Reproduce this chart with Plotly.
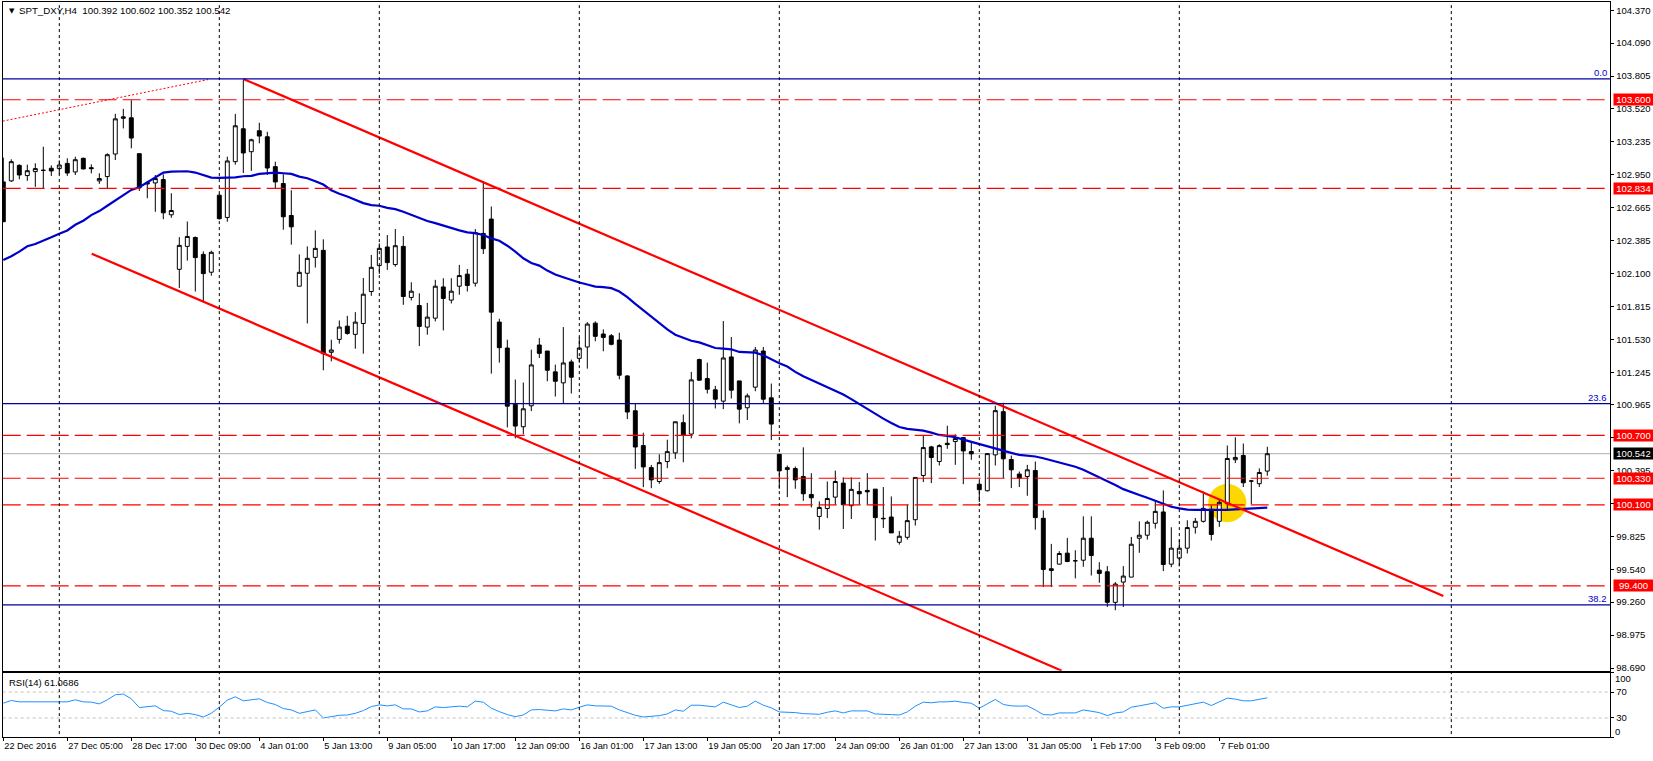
import plotly.graph_objects as go

# SPT_DXY H4 bars
opens = [102.89, 102.899, 103.033, 102.945, 102.979, 102.99, 103.008, 103.005, 103.05, 102.976,
         103.094, 103.013, 102.899, 102.936, 103.131, 103.452, 103.444, 103.134, 102.884, 102.881,
         102.91, 102.606, 102.135, 102.333, 102.41, 102.264, 102.11, 102.775, 102.583, 103.065,
         103.349, 103.151, 103.332, 103.28, 103.022, 102.876, 102.6, 101.989, 102.101, 102.238,
         102.299, 101.418, 101.53, 101.644, 101.573, 101.667, 101.943, 102.167, 102.328, 102.176,
         102.333, 101.892, 101.822, 101.636, 101.713, 101.983, 101.869, 101.989, 102.093, 102.015,
         102.445, 102.569, 101.679, 101.455, 100.97, 100.775, 100.956, 101.481, 101.429, 101.249,
         101.154, 101.335, 101.366, 101.464, 101.67, 101.576, 101.561, 101.524, 101.214, 100.913,
         100.612, 100.422, 100.302, 100.474, 100.549, 100.81, 100.712, 101.355, 101.191, 101.094,
         100.996, 101.378, 101.171, 100.939, 101.117, 101.429, 101.025, 100.537, 100.405, 100.414,
         100.345, 100.19, 100.0, 100.069, 100.167, 100.288, 100.093, 100.216, 100.225, 100.236,
         99.984, 99.995, 99.777, 99.82, 99.972, 100.354, 100.601, 100.475, 100.632, 100.647,
         100.681, 100.561, 100.279, 100.222, 100.532, 100.905, 100.492, 100.366, 100.345, 100.397,
         99.984, 99.548, 99.588, 99.683, 99.617, 99.622, 99.812, 99.536, 99.522, 99.258,
         99.433, 99.476, 99.812, 99.838, 99.941, 100.039, 99.588, 99.64, 99.726, 99.907,
         99.958, 100.061, 99.958, 100.11, 100.49, 100.527, 100.306, 100.283, 100.392]
highs = [103.10, 103.085, 103.042, 103.039, 103.051, 103.194, 103.033, 103.076, 103.094, 103.108,
         103.1, 103.042, 102.965, 103.137, 103.478, 103.521, 103.596, 103.134, 102.899, 102.95,
         102.956, 102.792, 102.413, 102.548, 102.419, 102.29, 102.296, 102.79, 103.108, 103.478,
         103.774, 103.263, 103.401, 103.323, 103.065, 102.956, 102.818, 102.264, 102.333, 102.471,
         102.394, 101.527, 101.693, 101.733, 101.765, 102.06, 102.259, 102.359, 102.431, 102.483,
         102.422, 102.023, 101.928, 101.845, 102.044, 102.058, 102.058, 102.173, 102.138, 102.483,
         102.896, 102.678, 101.708, 101.527, 101.183, 101.157, 101.441, 101.541, 101.429, 101.312,
         101.636, 101.355, 101.55, 101.679, 101.685, 101.616, 101.576, 101.587, 101.22, 100.973,
         100.724, 100.445, 100.537, 100.663, 100.818, 100.881, 101.249, 101.363, 101.329, 101.128,
         101.688, 101.55, 101.171, 101.062, 101.464, 101.464, 101.148, 100.537, 100.44, 100.431,
         100.597, 100.374, 100.13, 100.302, 100.396, 100.337, 100.337, 100.297, 100.374, 100.236,
         100.254, 100.173, 99.875, 100.102, 100.337, 100.696, 100.61, 100.624, 100.784, 100.71,
         100.684, 100.652, 100.30, 100.546, 100.957, 100.982, 100.526, 100.388, 100.446, 100.475,
         100.053, 99.763, 99.7, 99.815, 99.708, 100.001, 100.001, 99.605, 99.571, 99.433,
         99.571, 99.823, 99.958, 99.964, 100.13, 100.225, 99.907, 99.8, 99.967, 99.987,
         100.216, 100.096, 100.15, 100.613, 100.684, 100.63, 100.312, 100.415, 100.602]
lows = [102.546, 102.89, 102.913, 102.899, 102.847, 102.833, 102.942, 102.955, 102.942, 102.95,
        102.999, 102.964, 102.873, 102.833, 103.079, 103.352, 103.18, 102.812, 102.749, 102.632,
        102.568, 102.58, 101.974, 102.21, 101.943, 101.851, 102.08, 102.565, 102.546, 103.039,
        102.967, 102.985, 103.223, 102.95, 102.833, 102.477, 102.348, 101.989, 101.667, 102.15,
        101.263, 101.34, 101.493, 101.57, 101.449, 101.406, 101.906, 102.095, 102.13, 102.158,
        101.828, 101.866, 101.472, 101.57, 101.685, 101.607, 101.84, 101.915, 101.943, 101.986,
        102.267, 101.234, 101.329, 100.769, 100.675, 100.709, 100.91, 101.369, 101.168, 101.036,
        100.973, 101.062, 101.329, 101.277, 101.513, 101.427, 101.478, 101.185, 100.841, 100.411,
        100.253, 100.244, 100.282, 100.417, 100.497, 100.468, 100.675, 101.177, 101.062, 100.933,
        100.927, 101.019, 100.804, 100.833, 101.082, 100.976, 100.66, 100.239, 100.167, 100.239,
        100.135, 100.078, 99.886, 99.986, 100.1, 99.892, 99.978, 100.102, 100.102, 99.792,
        99.901, 99.858, 99.757, 99.8, 99.921, 100.297, 100.288, 100.44, 100.584, 100.446,
        100.279, 100.489, 100.125, 100.216, 100.44, 100.331, 100.245, 100.254, 100.179, 99.886,
        99.39, 99.39, 99.585, 99.605, 99.465, 99.565, 99.49, 99.427, 99.218, 99.19,
        99.218, 99.476, 99.686, 99.8, 99.895, 99.528, 99.562, 99.57, 99.68, 99.852,
        99.947, 99.792, 99.91, 100.059, 100.461, 100.254, 100.108, 100.254, 100.352]
closes = [102.546, 103.065, 102.95, 102.987, 103.005, 102.99, 102.985, 103.036, 102.967, 103.082,
          103.002, 103.005, 102.919, 103.125, 103.435, 103.441, 103.269, 102.841, 102.873, 102.919,
          102.623, 102.643, 102.342, 102.419, 102.236, 102.098, 102.282, 102.572, 103.071, 103.375,
          103.14, 103.254, 103.286, 103.01, 102.89, 102.589, 102.502, 102.109, 102.23, 102.316,
          101.406, 101.438, 101.636, 101.581, 101.679, 101.92, 102.152, 102.316, 102.193, 102.339,
          101.9, 101.946, 101.642, 101.722, 101.989, 101.883, 101.946, 102.081, 101.995, 102.451,
          102.313, 101.765, 101.458, 100.953, 100.781, 100.93, 101.309, 101.409, 101.263, 101.168,
          101.326, 101.203, 101.455, 101.662, 101.556, 101.547, 101.487, 101.22, 100.902, 100.6,
          100.428, 100.316, 100.465, 100.56, 100.818, 100.701, 101.18, 101.177, 101.099, 101.013,
          101.369, 101.091, 100.927, 101.042, 101.438, 101.013, 100.798, 100.394, 100.422, 100.316,
          100.196, 100.161, 100.078, 100.155, 100.302, 100.102, 100.234, 100.196, 100.213, 99.99,
          99.981, 99.858, 99.829, 99.964, 100.337, 100.595, 100.509, 100.612, 100.621, 100.673,
          100.566, 100.541, 100.231, 100.543, 100.914, 100.498, 100.403, 100.331, 100.403, 99.99,
          99.542, 99.534, 99.68, 99.611, 99.617, 99.812, 99.663, 99.508, 99.258, 99.416,
          99.485, 99.76, 99.838, 99.95, 100.044, 99.585, 99.726, 99.726, 99.904, 99.958,
          100.07, 99.844, 100.122, 100.501, 100.51, 100.291, 100.306, 100.38, 100.542]
ma_values = [102.216, 102.248, 102.288, 102.334, 102.354, 102.38, 102.411, 102.443, 102.471, 102.52,
             102.555, 102.603, 102.638, 102.684, 102.732, 102.778, 102.821, 102.844, 102.887, 102.925,
             102.971, 102.979, 102.982, 102.982, 102.971, 102.948, 102.927, 102.925, 102.925, 102.93,
             102.939, 102.942, 102.959, 102.968, 102.971, 102.965, 102.959, 102.936, 102.922, 102.896,
             102.867, 102.818, 102.787, 102.764, 102.738, 102.707, 102.689, 102.684, 102.666, 102.655,
             102.632, 102.606, 102.58, 102.552, 102.534, 102.511, 102.494, 102.471, 102.454, 102.448,
             102.431, 102.402, 102.382, 102.339, 102.288, 102.23, 102.19, 102.167, 102.124, 102.09,
             102.067, 102.041, 102.021, 102.004, 101.986, 101.981, 101.972, 101.943, 101.895, 101.837,
             101.78, 101.728, 101.665, 101.616, 101.57, 101.541, 101.518, 101.504, 101.481, 101.455,
             101.45, 101.444, 101.421, 101.415, 101.415, 101.392, 101.355, 101.323, 101.295, 101.249,
             101.211, 101.18, 101.143, 101.117, 101.085, 101.054, 101.014, 100.971, 100.934, 100.888,
             100.845, 100.807, 100.773, 100.756, 100.747, 100.741, 100.724, 100.704, 100.696, 100.684,
             100.664, 100.644, 100.624, 100.607, 100.589, 100.566, 100.549, 100.532, 100.526, 100.518,
             100.503, 100.486, 100.466, 100.452, 100.429, 100.403, 100.371, 100.34, 100.305, 100.271,
             100.236, 100.208, 100.185, 100.162, 100.136, 100.107, 100.084, 100.07, 100.059, 100.056,
             100.056, 100.05, 100.05, 100.056, 100.062, 100.065, 100.068, 100.068, 100.076]
rsi_values = [52.8, 57.0, 54.9, 54.9, 56.0, 54.9, 54.9, 56.0, 54.9, 58.0,
              54.9, 54.4, 51.8, 58.0, 65.8, 66.9, 59.6, 46.1, 47.1, 48.7,
              41.4, 40.4, 35.2, 37.2, 35.2, 31.5, 37.2, 46.6, 57.5, 62.7,
              56.5, 58.0, 59.6, 53.9, 50.8, 44.5, 42.4, 37.2, 39.3, 42.4,
              30.0, 32.6, 34.1, 34.6, 37.2, 41.4, 47.6, 50.2, 48.7, 50.2,
              44.0, 44.0, 39.3, 40.9, 47.1, 46.1, 47.6, 48.2, 47.1, 56.0,
              54.4, 45.0, 39.8, 35.2, 32.0, 34.6, 42.4, 43.0, 41.9, 40.9,
              44.0, 42.4, 46.6, 50.2, 48.7, 48.7, 48.2, 42.4, 37.8, 34.1,
              31.5, 32.0, 33.6, 36.2, 42.4, 40.4, 49.7, 49.7, 48.2, 47.1,
              54.4, 49.7, 46.1, 48.2, 56.0, 49.7, 45.6, 39.3, 39.3, 38.3,
              36.7, 36.2, 35.7, 38.8, 40.9, 37.8, 40.9, 40.9, 40.9, 36.2,
              36.2, 35.2, 34.6, 39.3, 48.2, 54.4, 53.4, 54.9, 54.9, 56.0,
              53.9, 52.8, 45.0, 52.3, 58.6, 50.8, 48.7, 48.2, 48.7, 42.4,
              35.2, 34.6, 37.8, 37.8, 37.8, 42.4, 39.8, 38.3, 33.6, 37.8,
              39.3, 46.6, 48.7, 50.8, 53.4, 45.0, 47.1, 47.1, 49.2, 51.3,
              54.4, 49.2, 55.4, 60.6, 59.1, 56.5, 56.5, 59.1, 61.07]
bars = list(range(len(closes)))

time_ticks = list(range(0, 160, 8))
time_labels = ["22 Dec 2016", "27 Dec 05:00", "28 Dec 17:00", "30 Dec 09:00", "4 Jan 01:00",
               "5 Jan 13:00", "9 Jan 05:00", "10 Jan 17:00", "12 Jan 09:00", "16 Jan 01:00",
               "17 Jan 13:00", "19 Jan 05:00", "20 Jan 17:00", "24 Jan 09:00", "26 Jan 01:00",
               "27 Jan 13:00", "31 Jan 05:00", "1 Feb 17:00", "3 Feb 09:00", "7 Feb 01:00"]
price_ticks = [104.37, 104.09, 103.805, 103.52, 103.235, 102.95, 102.665, 102.385, 102.1, 101.815,
               101.53, 101.245, 100.965, 100.68, 100.395, 100.11, 99.825, 99.54, 99.26, 98.975, 98.69]
separators = [7, 27, 47, 72, 97, 122, 147, 181]
red_levels = [103.6, 102.834, 100.7, 100.33, 100.1, 99.4]
fib_levels = [103.78, 100.974, 99.236]
fib_names = ["0.0", "23.6", "38.2"]
last_price = 100.542

channel_top_x, channel_top_y = [30, 180], [103.78, 99.313]
channel_low_x, channel_low_y = [11.05, 132.3], [102.27, 98.668]
fib_trend_x, fib_trend_y = [-0.07, 25.6], [103.415, 103.774]

W, H = 1653, 761
FONT = "Liberation Sans"
X_RANGE = [-0.075, 200.875]
Y_RANGE = [98.668, 104.44]

fig = go.Figure()

fig.add_trace(go.Candlestick(x=bars, open=opens, high=highs, low=lows, close=closes,
                             xaxis="x2", yaxis="y", whiskerwidth=0,
                             increasing=dict(line=dict(color="black", width=1), fillcolor="white"),
                             decreasing=dict(line=dict(color="black", width=1), fillcolor="black")))
fig.add_trace(go.Scatter(x=bars, y=ma_values, mode="lines", xaxis="x2", yaxis="y",
                         line=dict(color="#0000CD", width=2.2)))
for xs, ys in [(channel_top_x, channel_top_y), (channel_low_x, channel_low_y)]:
    fig.add_trace(go.Scatter(x=xs, y=ys, mode="lines", xaxis="x2", yaxis="y",
                             line=dict(color="#FF0000", width=2.2)))
fig.add_trace(go.Scatter(x=fib_trend_x, y=fib_trend_y, mode="lines", xaxis="x2", yaxis="y",
                         line=dict(color="#FF0000", width=1, dash="2px,2px")))
fig.add_trace(go.Scatter(x=bars, y=rsi_values, mode="lines", xaxis="x", yaxis="y2",
                         line=dict(color="#1E90FF", width=1)))

# current price line and the yellow marker sit behind the candles
fig.add_shape(type="line", xref="x2", yref="y", x0=X_RANGE[0], x1=X_RANGE[1], y0=last_price, y1=last_price,
              line=dict(color="#BEBEBE", width=1.3), layer="below")
fig.add_shape(type="circle", xref="x2", yref="y", x0=153 - 2.4, x1=153 + 2.4, y0=100.116 - 0.165, y1=100.116 + 0.165,
              fillcolor="#FFD700", line=dict(width=0), layer="below")

for level in red_levels:
    fig.add_shape(type="line", xref="x2", yref="y", x0=X_RANGE[0], x1=X_RANGE[1], y0=level, y1=level,
                  line=dict(color="#FF0000", width=1.2, dash="18px,6px"))
    fig.add_annotation(xref="paper", yref="y", x=1613 / W, y=level, text=f"{level:.3f}", showarrow=False,
                       xanchor="left", yanchor="middle", width=39, height=11, borderpad=0, bgcolor="#FF0000",
                       font=dict(color="white", family=FONT, size=9.5))
for level, name in zip(fib_levels, fib_names):
    fig.add_shape(type="line", xref="x2", yref="y", x0=X_RANGE[0], x1=X_RANGE[1], y0=level, y1=level,
                  line=dict(color="#0000A0", width=1.3))
    fig.add_annotation(xref="paper", yref="y", x=1608 / W, y=level, text=name, showarrow=False,
                       xanchor="right", yanchor="bottom", yshift=0, borderpad=0,
                       font=dict(color="#0000CD", family=FONT, size=9.5))
for rsi_level in [70, 30]:
    fig.add_shape(type="line", xref="x", yref="y2", x0=X_RANGE[0], x1=X_RANGE[1], y0=rsi_level, y1=rsi_level,
                  line=dict(color="#C0C0C0", width=1, dash="3px,3px"))
for sep in separators:
    fig.add_shape(type="line", xref="x", yref="paper", x0=sep, x1=sep, y0=1 - 737 / H, y1=1 - 2.5 / H,
                  line=dict(color="black", width=1, dash="3px,3px"))

fig.add_annotation(xref="paper", yref="y", x=1613 / W, y=last_price, text=f"{last_price:.3f}", showarrow=False,
                   xanchor="left", yanchor="middle", width=39, height=11, borderpad=0, bgcolor="black",
                   font=dict(color="white", family=FONT, size=9.5))
fig.add_annotation(xref="paper", yref="paper", x=7 / W, y=1 - 10.7 / H, text="▼", showarrow=False,
                   xanchor="left", yanchor="middle", font=dict(color="black", family="DejaVu Sans", size=7))
fig.add_annotation(xref="paper", yref="paper", x=17 / W, y=1 - 10.7 / H, showarrow=False,
                   text="SPT_DXY,H4  100.392 100.602 100.352 100.542",
                   xanchor="left", yanchor="middle", font=dict(color="black", family=FONT, size=9.7))
fig.add_annotation(xref="paper", yref="paper", x=7 / W, y=1 - 684.7 / H, showarrow=False, text="RSI(14) 61.0686",
                   xanchor="left", yanchor="middle", font=dict(color="black", family=FONT, size=9.5))
fig.add_annotation(xref="paper", yref="y2", x=1613 / W, y=100, text="100", showarrow=False, xanchor="left",
                   yanchor="middle", yshift=-6, font=dict(color="black", family=FONT, size=9.5))
fig.add_annotation(xref="paper", yref="y2", x=1613 / W, y=0, text="0", showarrow=False, xanchor="left",
                   yanchor="middle", yshift=6, font=dict(color="black", family=FONT, size=9.5))

frame = dict(showline=True, linecolor="black", linewidth=1, mirror=True, showgrid=False, zeroline=False)
tick_font = dict(color="black", family=FONT, size=9.5)
fig.update_layout(
    width=W, height=H, showlegend=False, hovermode=False, plot_bgcolor="white", paper_bgcolor="white",
    margin=dict(l=0, r=0, t=0, b=0),
    xaxis=dict(domain=[2.7 / W, 1610.3 / W], range=X_RANGE, anchor="y2", tickvals=time_ticks, ticktext=time_labels,
               ticks="outside", ticklen=3, tickcolor="black", tickfont=dict(color="black", family=FONT, size=9.2),
               tickangle=0, ticklabelposition="outside right", **frame),
    xaxis2=dict(domain=[2.7 / W, 1610.3 / W], range=X_RANGE, anchor="y", showticklabels=False, ticks="",
                rangeslider=dict(visible=False), **frame),
    yaxis=dict(domain=[1 - 673.3 / H, 1 - 2.5 / H], range=Y_RANGE, anchor="x2", side="right", tickvals=price_ticks,
               ticktext=[f"{p:.3f}" for p in price_ticks], ticks="outside", ticklen=3, tickcolor="black",
               tickfont=tick_font, **frame),
    yaxis2=dict(domain=[1 - 740.3 / H, 1 - 675.3 / H], range=[0, 100], anchor="x", side="right",
                tickvals=[0, 30, 70, 100], ticktext=["", "30", "70", ""], ticks="outside", ticklen=3,
                tickcolor="black", tickfont=tick_font, **frame),
)

fig.write_html("out.html", config={"displayModeBar": False}, post_script="document.body.style.margin='0';")
